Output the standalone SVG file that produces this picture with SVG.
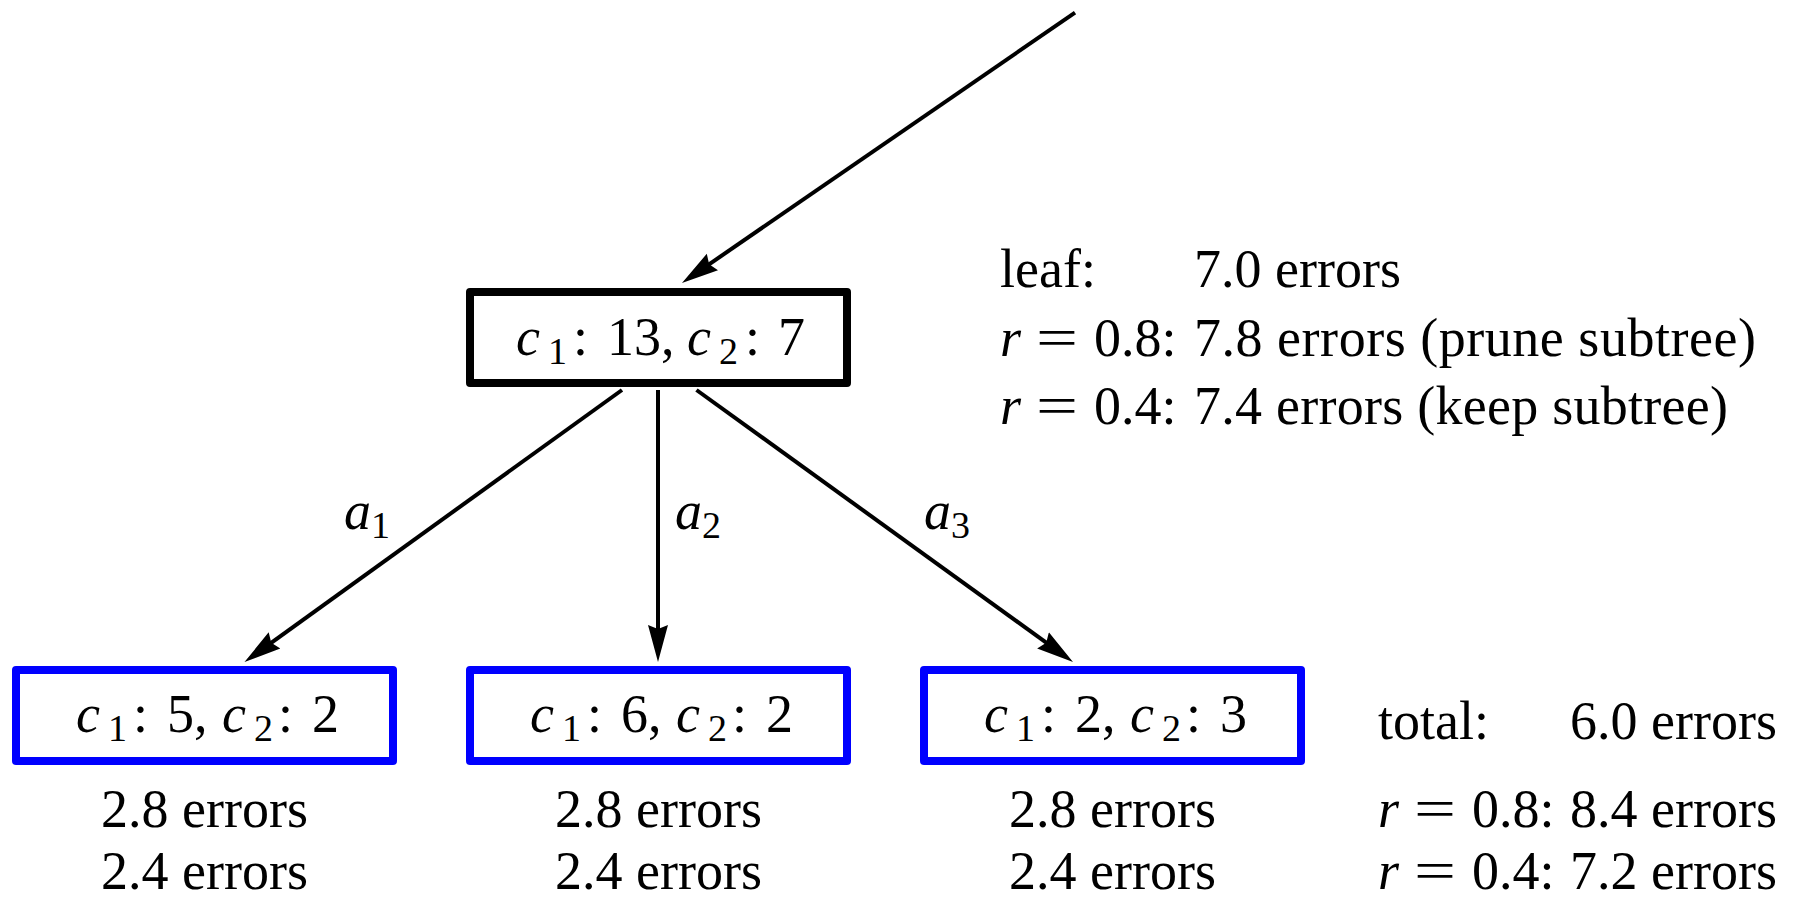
<svg xmlns="http://www.w3.org/2000/svg" width="1796" height="900" viewBox="0 0 1796 900">
<defs>
<style>
text{font-family:"Liberation Serif","Times New Roman",serif;font-size:54px;fill:#000}
.it{font-style:italic}
.sub{font-size:38px}
.box{fill:#fff;stroke-width:8;stroke-linejoin:round}
.root{stroke:#000}
.leaf{stroke:#0000ff}
.edge{fill:none;stroke:#000;stroke-width:4}
</style>
<marker id="arr" markerUnits="userSpaceOnUse" viewBox="0 -11 38 22" refX="27" refY="0" markerWidth="38" markerHeight="22" orient="auto">
<path d="M0,-10 L37,0 L0,10 L4,0 Z" fill="#000"/>
</marker>
</defs>
<rect width="1796" height="900" fill="#fff"/>

<g id="connectors">
<path class="edge" d="M1075,12.6 L690.2,277.3" marker-end="url(#arr)"/>
<path class="edge" d="M622,390 L252.6,656.2" marker-end="url(#arr)"/>
<path class="edge" d="M658,390 L658,652" marker-end="url(#arr)"/>
<path class="edge" d="M696.5,390 L1064.9,656.1" marker-end="url(#arr)"/>
</g>

<g id="edge-labels">
<text x="344" y="529"><tspan class="it">a</tspan><tspan class="sub" x="371" dy="9">1</tspan></text>
<text x="675" y="529"><tspan class="it">a</tspan><tspan class="sub" x="702" dy="9">2</tspan></text>
<text x="924" y="529"><tspan class="it">a</tspan><tspan class="sub" x="951" dy="9">3</tspan></text>
</g>

<g id="node-root">
<rect class="box root" x="470" y="292" width="377" height="91"/>
<text y="355"><tspan class="it" x="516">c</tspan><tspan class="sub" x="548" dy="9">1</tspan><tspan x="573" dy="-9">:</tspan><tspan x="607">13,</tspan><tspan class="it" x="687">c</tspan><tspan class="sub" x="719" dy="9">2</tspan><tspan x="745" dy="-9">:</tspan><tspan x="778">7</tspan></text>
</g>

<g id="node-leaf1">
<rect class="box leaf" x="16" y="670" width="377" height="91"/>
<text y="732"><tspan class="it" x="76">c</tspan><tspan class="sub" x="108" dy="9">1</tspan><tspan x="133" dy="-9">:</tspan><tspan x="167">5,</tspan><tspan class="it" x="222">c</tspan><tspan class="sub" x="254" dy="9">2</tspan><tspan x="278" dy="-9">:</tspan><tspan x="312">2</tspan></text>
<text x="204.5" y="827" text-anchor="middle">2.8 errors</text>
<text x="204.5" y="889" text-anchor="middle">2.4 errors</text>
</g>

<g id="node-leaf2">
<rect class="box leaf" x="470" y="670" width="377" height="91"/>
<text y="732"><tspan class="it" x="530">c</tspan><tspan class="sub" x="562" dy="9">1</tspan><tspan x="587" dy="-9">:</tspan><tspan x="621">6,</tspan><tspan class="it" x="676">c</tspan><tspan class="sub" x="708" dy="9">2</tspan><tspan x="732" dy="-9">:</tspan><tspan x="766">2</tspan></text>
<text x="658.5" y="827" text-anchor="middle">2.8 errors</text>
<text x="658.5" y="889" text-anchor="middle">2.4 errors</text>
</g>

<g id="node-leaf3">
<rect class="box leaf" x="924" y="670" width="377" height="91"/>
<text y="732"><tspan class="it" x="984">c</tspan><tspan class="sub" x="1016" dy="9">1</tspan><tspan x="1041" dy="-9">:</tspan><tspan x="1075">2,</tspan><tspan class="it" x="1130">c</tspan><tspan class="sub" x="1162" dy="9">2</tspan><tspan x="1186" dy="-9">:</tspan><tspan x="1220">3</tspan></text>
<text x="1112.5" y="827" text-anchor="middle">2.8 errors</text>
<text x="1112.5" y="889" text-anchor="middle">2.4 errors</text>
</g>

<g id="root-summary">
<text x="1000" y="287">leaf:</text>
<text x="1194" y="287">7.0 errors</text>
<text x="1000" y="356" class="it">r</text>
<text x="1036" y="356" textLength="42" lengthAdjust="spacingAndGlyphs">=</text>
<text x="1094" y="356">0.8:</text>
<text x="1194" y="356" textLength="562" lengthAdjust="spacing">7.8 errors (prune subtree)</text>
<text x="1000" y="424" class="it">r</text>
<text x="1036" y="424" textLength="42" lengthAdjust="spacingAndGlyphs">=</text>
<text x="1094" y="424">0.4:</text>
<text x="1194" y="424" textLength="534" lengthAdjust="spacing">7.4 errors (keep subtree)</text>
</g>

<g id="subtree-summary">
<text x="1378" y="739">total:</text>
<text x="1570" y="739">6.0 errors</text>
<text x="1378" y="827" class="it">r</text>
<text x="1414" y="827" textLength="42" lengthAdjust="spacingAndGlyphs">=</text>
<text x="1472" y="827">0.8:</text>
<text x="1570" y="827">8.4 errors</text>
<text x="1378" y="889" class="it">r</text>
<text x="1414" y="889" textLength="42" lengthAdjust="spacingAndGlyphs">=</text>
<text x="1472" y="889">0.4:</text>
<text x="1570" y="889">7.2 errors</text>
</g>
</svg>
